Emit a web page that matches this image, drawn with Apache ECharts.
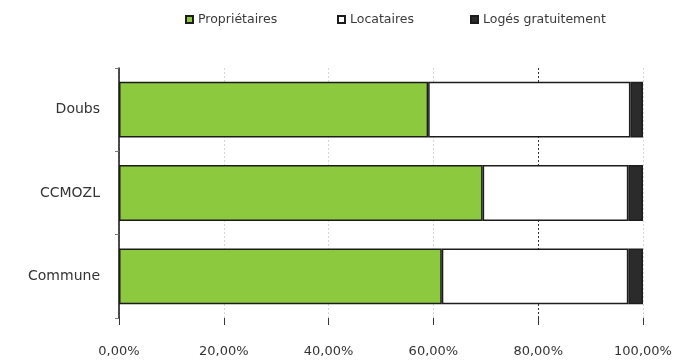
<!DOCTYPE html>
<html>
<head>
<meta charset="utf-8">
<script src="https://cdn.jsdelivr.net/npm/echarts@6/dist/echarts.min.js"></script>
<style>
  html, body { margin: 0; padding: 0; background: #fff; }
  #chart { width: 683px; height: 360px; }
</style>
</head>
<body>
<div id="chart"></div>
<script>
// Statut d'occupation des résidences principales (parts en %)
const categories = ['Commune', 'CCMOZL', 'Doubs'];
const proprietaires = [61.6, 69.4, 59.0];
const locataires = [35.6, 27.8, 38.6];
const logesGratuitement = [2.8, 2.8, 2.4];
const xTicks = [0, 20, 40, 60, 80, 100];
const seriesNames = ['Propriétaires', 'Locataires', 'Logés gratuitement'];

const font = 'DejaVu Sans';
const border = { borderColor: '#1c1c1c', borderWidth: 1.5 };

const chart = echarts.init(document.getElementById('chart'), null, { renderer: 'canvas' });

function fmt(v) {
  return v.toFixed(2).replace('.', ',') + '%';
}

// one legend block per entry so each sits at its own spot along the top
const legendLefts = [180, 332, 465];
const legends = seriesNames.map((name, i) => ({
  top: 8,
  left: legendLefts[i],
  itemWidth: 7,
  itemHeight: 7,
  itemGap: 4,
  textStyle: { fontSize: 12.5, color: '#3a3a3a', fontFamily: font },
  data: [{ name: name, icon: 'rect' }]
}));

chart.setOption({
  animation: false,
  textStyle: { fontFamily: font },
  legend: legends,
  grid: { left: 119, right: 40, top: 68, bottom: 42, containLabel: false },
  xAxis: {
    type: 'value',
    min: xTicks[0],
    max: xTicks[xTicks.length - 1],
    interval: 20,
    axisLine: { show: false },
    axisTick: { show: true, length: 7, inside: false, lineStyle: { color: '#333' } },
    axisLabel: {
      margin: 27,
      fontSize: 13,
      color: '#333',
      formatter: fmt
    },
    splitLine: {
      show: true,
      lineStyle: {
        type: [2, 2],
        color: ['#d8d4e4', '#d8d4e4', '#d8d4e4', '#d8d4e4', '#333', '#d8d4e4']
      }
    }
  },
  yAxis: {
    type: 'category',
    data: categories,
    axisLine: { show: true, lineStyle: { color: '#111', width: 1.5 } },
    axisTick: { show: true, length: 4, lineStyle: { color: '#777' } },
    axisLabel: { fontSize: 14, color: '#333', margin: 19 }
  },
  series: [
    {
      name: seriesNames[0],
      type: 'bar',
      stack: 'total',
      barCategoryGap: '33%',
      itemStyle: Object.assign({ color: '#8cc93f' }, border),
      data: proprietaires
    },
    {
      name: seriesNames[1],
      type: 'bar',
      stack: 'total',
      itemStyle: Object.assign({ color: '#ffffff' }, border),
      data: locataires
    },
    {
      name: seriesNames[2],
      type: 'bar',
      stack: 'total',
      itemStyle: Object.assign({ color: '#2b2b2b' }, border),
      data: logesGratuitement
    }
  ]
});
</script>
</body>
</html>
